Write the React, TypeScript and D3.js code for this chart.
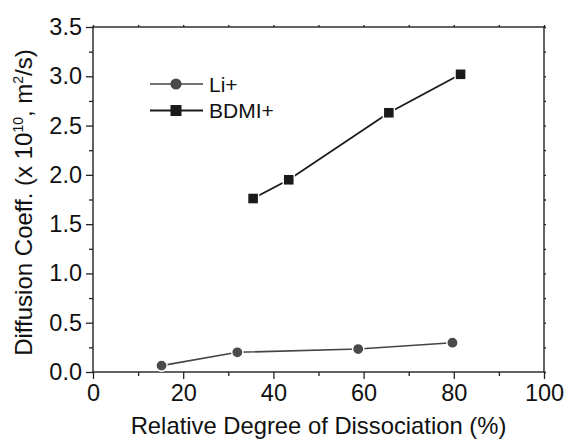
import React, { useEffect, useRef } from 'react';
import * as d3 from 'd3';

// values
const liX = [15.2, 32.0, 58.8, 79.7];
const liY = [0.065, 0.2, 0.233, 0.297];
const bdmiX = [35.5, 43.4, 65.6, 81.5];
const bdmiY = [1.76, 1.95, 2.63, 3.02];
const xTicks = [0, 20, 40, 60, 80, 100];
const yTicks = [0.0, 0.5, 1.0, 1.5, 2.0, 2.5, 3.0, 3.5];

const W = 564;
const H = 439;
const margin = { left: 93, right: 20, top: 27, bottom: 67 };
const FONT = '"Liberation Sans", Arial, sans-serif';

export default function App() {
    const ref = useRef<SVGSVGElement>(null);

    useEffect(() => {
        const svg = d3.select(ref.current);
        svg.selectAll('*').remove();

        const x = d3.scaleLinear().domain([0, 100]).range([margin.left, W - margin.right]);
        const y = d3.scaleLinear().domain([0, 3.5]).range([H - margin.bottom, margin.top]);
        const axisColor = '#222';

        // frame
        svg.append('rect')
            .attr('x', x(0)).attr('y', y(3.5))
            .attr('width', x(100) - x(0)).attr('height', y(0) - y(3.5))
            .attr('fill', 'none').attr('stroke', axisColor).attr('stroke-width', 1.4);

        // bottom axis
        const bottom = d3.axisBottom(x).tickValues(xTicks).tickSize(7).tickSizeOuter(0).tickPadding(5)
            .tickFormat(d3.format('d'));
        const gb = svg.append('g').attr('transform', `translate(0,${y(0)})`).call(bottom);
        svg.append('g').attr('transform', `translate(0,${y(0)})`)
            .call(d3.axisBottom(x).tickValues(d3.range(10, 100, 20)).tickSize(4).tickSizeOuter(0).tickFormat(() => ''));

        // left axis
        const left = d3.axisLeft(y).tickValues(yTicks).tickSize(7).tickSizeOuter(0).tickPadding(4)
            .tickFormat(d3.format('.1f'));
        svg.append('g').attr('transform', `translate(${x(0)},0)`).call(left);
        svg.append('g').attr('transform', `translate(${x(0)},0)`)
            .call(d3.axisLeft(y).tickValues(d3.range(0.25, 3.5, 0.5)).tickSize(4).tickSizeOuter(0).tickFormat(() => ''));

        // top and right: tiny ticks
        svg.append('g').attr('transform', `translate(0,${y(3.5)})`)
            .call(d3.axisTop(x).tickValues(d3.range(0, 101, 10)).tickSize(2).tickSizeOuter(0).tickFormat(() => ''));
        svg.append('g').attr('transform', `translate(${x(100)},0)`)
            .call(d3.axisRight(y).tickValues(d3.range(0, 3.51, 0.25)).tickSize(2).tickSizeOuter(0).tickFormat(() => ''));

        svg.selectAll('.domain').remove();
        svg.selectAll('.tick line').attr('stroke', axisColor).attr('stroke-width', 1.3);
        svg.selectAll('.tick text')
            .attr('fill', '#111')
            .style('font-family', FONT)
            .style('font-size', '23.5px');
        gb.selectAll('.tick text').attr('dy', '0.71em');

        const line = d3.line<[number, number]>().x(d => x(d[0])).y(d => y(d[1]));
        const li = liX.map((v, i) => [v, liY[i]] as [number, number]);
        const bd = bdmiX.map((v, i) => [v, bdmiY[i]] as [number, number]);

        svg.append('path').attr('d', line(li)).attr('fill', 'none')
            .attr('stroke', '#444').attr('stroke-width', 1.6);
        svg.append('path').attr('d', line(bd)).attr('fill', 'none')
            .attr('stroke', '#1a1a1a').attr('stroke-width', 1.8);

        svg.selectAll('circle.li').data(li).enter().append('circle')
            .attr('cx', d => x(d[0])).attr('cy', d => y(d[1])).attr('r', 5.6)
            .attr('fill', '#4a4a4a').attr('stroke', '#fff').attr('stroke-width', 1.4);
        svg.selectAll('rect.bd').data(bd).enter().append('rect')
            .attr('x', d => x(d[0]) - 5.5).attr('y', d => y(d[1]) - 5.5)
            .attr('width', 11).attr('height', 11)
            .attr('fill', '#1a1a1a').attr('stroke', '#fff').attr('stroke-width', 1.4);

        // legend
        const lg = svg.append('g').style('font-family', FONT).style('font-size', '21px');
        lg.append('line').attr('x1', 150).attr('x2', 203).attr('y1', 84).attr('y2', 84)
            .attr('stroke', '#444').attr('stroke-width', 1.6);
        lg.append('circle').attr('cx', 176).attr('cy', 84).attr('r', 5.6).attr('fill', '#4a4a4a');
        lg.append('text').attr('x', 209).attr('y', 84).attr('dy', '0.36em').attr('fill', '#111').text('Li+');
        lg.append('line').attr('x1', 150).attr('x2', 203).attr('y1', 110.5).attr('y2', 110.5)
            .attr('stroke', '#1a1a1a').attr('stroke-width', 1.8);
        lg.append('rect').attr('x', 176 - 5.5).attr('y', 110.5 - 5.5).attr('width', 11).attr('height', 11).attr('fill', '#1a1a1a');
        lg.append('text').attr('x', 209).attr('y', 110.5).attr('dy', '0.36em').attr('fill', '#111').text('BDMI+');

        // axis titles
        svg.append('text')
            .attr('x', (x(0) + x(100)) / 2).attr('y', 434)
            .attr('text-anchor', 'middle').attr('fill', '#111')
            .style('font-family', FONT).style('font-size', '23.8px')
            .text('Relative Degree of Dissociation (%)');

        const yt = svg.append('text')
            .attr('transform', `translate(32,${(y(0) + y(3.5)) / 2 + 3}) rotate(-90)`)
            .attr('text-anchor', 'middle').attr('fill', '#111')
            .style('font-family', FONT).style('font-size', '24px');
        yt.append('tspan').text('Diffusion Coeff. (x 10');
        yt.append('tspan').attr('dy', -9).style('font-size', '14px').text('10');
        yt.append('tspan').attr('dy', 9).text(', m');
        yt.append('tspan').attr('dy', -9).style('font-size', '14px').text('2');
        yt.append('tspan').attr('dy', 9).text('/s)');
    }, []);

    return (
        <svg ref={ref} width={W} height={H}
            style={{ position: 'absolute', left: 0, top: 0, background: '#fff' }} />
    );
}
